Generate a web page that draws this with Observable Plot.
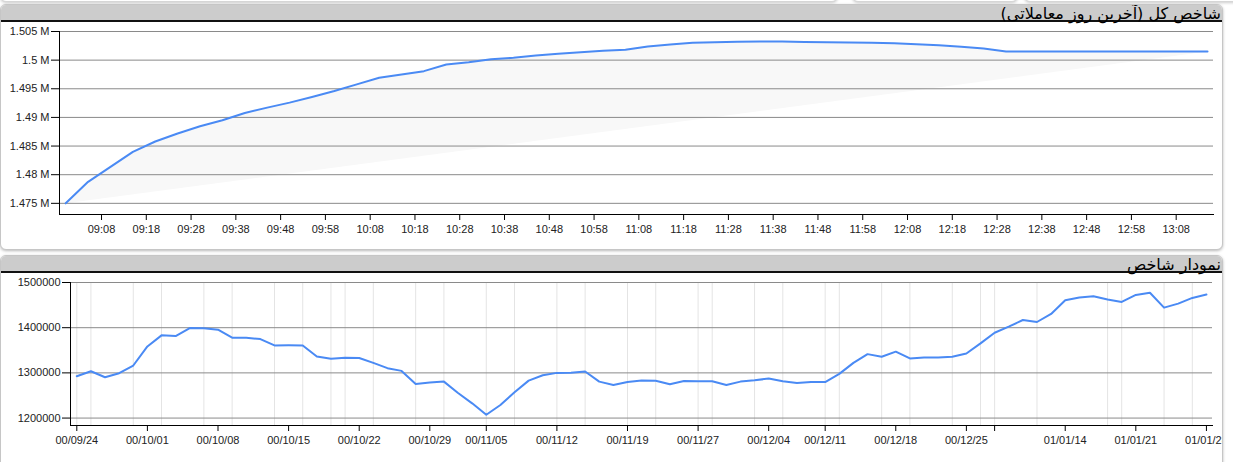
<!DOCTYPE html>
<html>
<head>
<meta charset="utf-8">
<script src="https://cdn.jsdelivr.net/npm/d3@7"></script>
<script src="https://cdn.jsdelivr.net/npm/@observablehq/plot@0.6"></script>
<style>
  html, body { margin: 0; padding: 0; background: #fff; }
  body { width: 1233px; height: 462px; overflow: hidden; position: relative; font-family: "Liberation Sans", Arial, sans-serif; }
  .stub { position: absolute; top: -20px; height: 20px; background: #fff; border: 1px solid #d6d6d6; border-radius: 6px; box-shadow: 0 1px 3px rgba(0,0,0,0.2); }
  .panel { position: absolute; left: 0; width: 1221px; background: #fff; border: 1px solid #c6c6c6; border-radius: 6px; box-shadow: 0 1px 3px rgba(0,0,0,0.28); overflow: hidden; }
  .hdr { position: absolute; left: 0; right: 0; top: 0; height: 15px; background: #cccccc; border-bottom: 2px solid #111; }
  .hdr span { position: absolute; right: 1px; bottom: -3px; font: 16px "DejaVu Sans", sans-serif; color: #000; white-space: nowrap; direction: rtl; }
  .chart { position: absolute; left: -1px; }
</style>
</head>
<body>
<div class="stub" style="left:0;width:836px"></div>
<div class="stub" style="left:852px;width:164px"></div>
<div class="stub" style="left:1024px;width:230px"></div>

<div class="panel" id="p1" style="top:4px;height:244px">
  <div class="hdr"><span id="t1"></span></div>
  <div class="chart" id="c1" style="top:17px"></div>
</div>
<div class="panel" id="p2" style="top:255px;height:250px">
  <div class="hdr"><span id="t2"></span></div>
  <div class="chart" id="c2" style="top:16px"></div>
</div>

<script>
// ---------- Titles ----------
const title1 = "شاخص کل (آخرین روز معاملاتی)";
const title2 = "نمودار شاخص";

// ---------- Intraday (last trading day) ----------
const intradayTimes = [
  "09:00","09:05","09:10","09:15","09:20","09:25","09:30","09:35","09:40","09:45",
  "09:50","09:55","10:00","10:05","10:10","10:15","10:20","10:25","10:30","10:35",
  "10:40","10:45","10:50","10:55","11:00","11:05","11:10","11:15","11:20","11:25",
  "11:30","11:35","11:40","11:45","11:50","11:55","12:00","12:05","12:10","12:15",
  "12:20","12:25","12:30","12:35","12:40","12:45","12:50","12:55","13:00","13:05",
  "13:10","13:15"
];
const intradayValues = [
  1475000,1478760,1481370,1483980,1485790,1487190,1488460,1489500,1490780,1491710,
  1492580,1493560,1494600,1495770,1496930,1497510,1498080,1499250,1499650,1500170,
  1500410,1500810,1501100,1501390,1501630,1501810,1502380,1502730,1503030,1503130,
  1503200,1503250,1503250,1503170,1503130,1503080,1503030,1502940,1502790,1502610,
  1502330,1502040,1501510,1501510,1501510,1501510,1501510,1501510,1501510,1501510,
  1501510,1501510
];
const intradayTickTimes = [
  "09:08","09:18","09:28","09:38","09:48","09:58","10:08","10:18","10:28","10:38",
  "10:48","10:58","11:08","11:18","11:28","11:38","11:48","11:58","12:08","12:18",
  "12:28","12:38","12:48","12:58","13:08"
];
const intradayYTicks = [1475000,1480000,1485000,1490000,1495000,1500000,1505000];
const intradayXDomain = ["08:58:37","13:16:20"];
const intradayYDomain = [1473050, 1505000];

// ---------- Daily index chart ----------
const dailyValues = [
  1292600,1303700,1290400,1299300,1316300,1358500,1383000,1381500,1399300,1398800,
  1395600,1377800,1377500,1374800,1360700,1361000,1360700,1336300,1331500,1333300,
  1333000,1322200,1310400,1304400,1275600,1278500,1280700,1255600,1232600,1207400,
  1228900,1257000,1282900,1294800,1300000,1300300,1303000,1280700,1273300,1280000,
  1282900,1282700,1274800,1282200,1281500,1281300,1273300,1280700,1283700,1287400,
  1281500,1277800,1280000,1279800,1297800,1322200,1341500,1335600,1347000,1331900,
  1334100,1333800,1335600,1343000,1365200,1388900,1402200,1417000,1412600,1430400,
  1460700,1466700,1469600,1462200,1457000,1472500,1477400,1444400,1453300,1465900,
  1473300
];
const dailyTickIndex  = [0,5,10,15,20,25,29,34,39,44,49,53,58,63,65,70,75,80];
const dailyTickLabels = ["00/09/24","00/10/01","00/10/08","00/10/15","00/10/22","00/10/29",
  "00/11/05","00/11/12","00/11/19","00/11/27","00/12/04","00/12/11","00/12/18","00/12/25",
  "","01/01/14","01/01/21","01/01/28"];
const dailyMinorGrid = [0,1,4,6,9,11,14,16,18,19,21,24,26,29,31,34,36,39,41,44,45,48,50,53,54,57,59,62,64,65,68,73,74,77,79];
const dailyYTicks = [1200000,1300000,1400000,1500000];
const dailyXDomain = [-0.446, 80.43];
const dailyYDomain = [1183560, 1500000];

// ---------- Styling constants ----------
const lineColor = "#4a8af4";
const gridColor = "#8a8a8a";
const textColor = "#222";
const baseStyle = { fontFamily: "Liberation Sans, Arial, sans-serif", fontSize: "11px", color: textColor, background: "transparent" };

document.getElementById("t1").textContent = title1;
document.getElementById("t2").textContent = title2;

// ---------- Chart 1 ----------
const parseHM = d3.utcParse("%H:%M");
const parseHMS = d3.utcParse("%H:%M:%S");
const intraday = intradayTimes.map((t, i) => ({ t: parseHM(t), v: intradayValues[i] }));
const xTicks1 = intradayTickTimes.map(parseHM);

const chart1 = Plot.plot({
  width: 1222, height: 225,
  marginLeft: 59, marginRight: 9, marginTop: 9, marginBottom: 33,
  style: baseStyle,
  x: { type: "utc", domain: intradayXDomain.map(parseHMS), label: null },
  y: { domain: intradayYDomain, label: null },
  marks: [
    Plot.line(intraday, { x: "t", y: "v", fill: "#f8f8f8", stroke: "none" }),
    Plot.gridY(intradayYTicks, { stroke: gridColor, strokeOpacity: 1 }),
    Plot.line(intraday, { x: "t", y: "v", stroke: lineColor, strokeWidth: 2 }),
    Plot.frame({ anchor: "left", stroke: "#000" }),
    Plot.frame({ anchor: "bottom", stroke: "#000" }),
    Plot.axisY(intradayYTicks, { tickFormat: d => (+(d / 1e6).toFixed(3)) + " M", tickSize: 8, tickPadding: 2, stroke: "#000", fill: textColor, label: null }),
    Plot.axisX(xTicks1, { tickFormat: d3.utcFormat("%H:%M"), tickSize: 6, tickPadding: 5, stroke: "#000", fill: textColor, label: null })
  ]
});
document.getElementById("c1").appendChild(chart1);

// ---------- Chart 2 ----------
const daily = dailyValues.map((v, i) => ({ i, v }));
const tickLabelMap = new Map(dailyTickIndex.map((d, k) => [d, dailyTickLabels[k]]));

const chart2 = Plot.plot({
  width: 1222, height: 190,
  marginLeft: 70, marginRight: 10, marginTop: 10, marginBottom: 37,
  style: baseStyle,
  x: { type: "linear", domain: dailyXDomain, label: null },
  y: { domain: dailyYDomain, label: null },
  marks: [
    Plot.ruleX(dailyMinorGrid, { stroke: "#e4e4e4" }),
    Plot.gridY(dailyYTicks, { stroke: gridColor, strokeOpacity: 1 }),
    Plot.line(daily, { x: "i", y: "v", stroke: lineColor, strokeWidth: 2 }),
    Plot.frame({ anchor: "left", stroke: "#000" }),
    Plot.frame({ anchor: "bottom", stroke: "#000" }),
    Plot.axisY(dailyYTicks, { tickFormat: d3.format("d"), tickSize: 8, tickPadding: 2, stroke: "#000", fill: textColor, label: null }),
    Plot.axisX(dailyTickIndex, { tickFormat: d => tickLabelMap.get(d), tickSize: 6, tickPadding: 5, stroke: "#000", fill: textColor, label: null })
  ]
});
document.getElementById("c2").appendChild(chart2);
</script>
</body>
</html>
